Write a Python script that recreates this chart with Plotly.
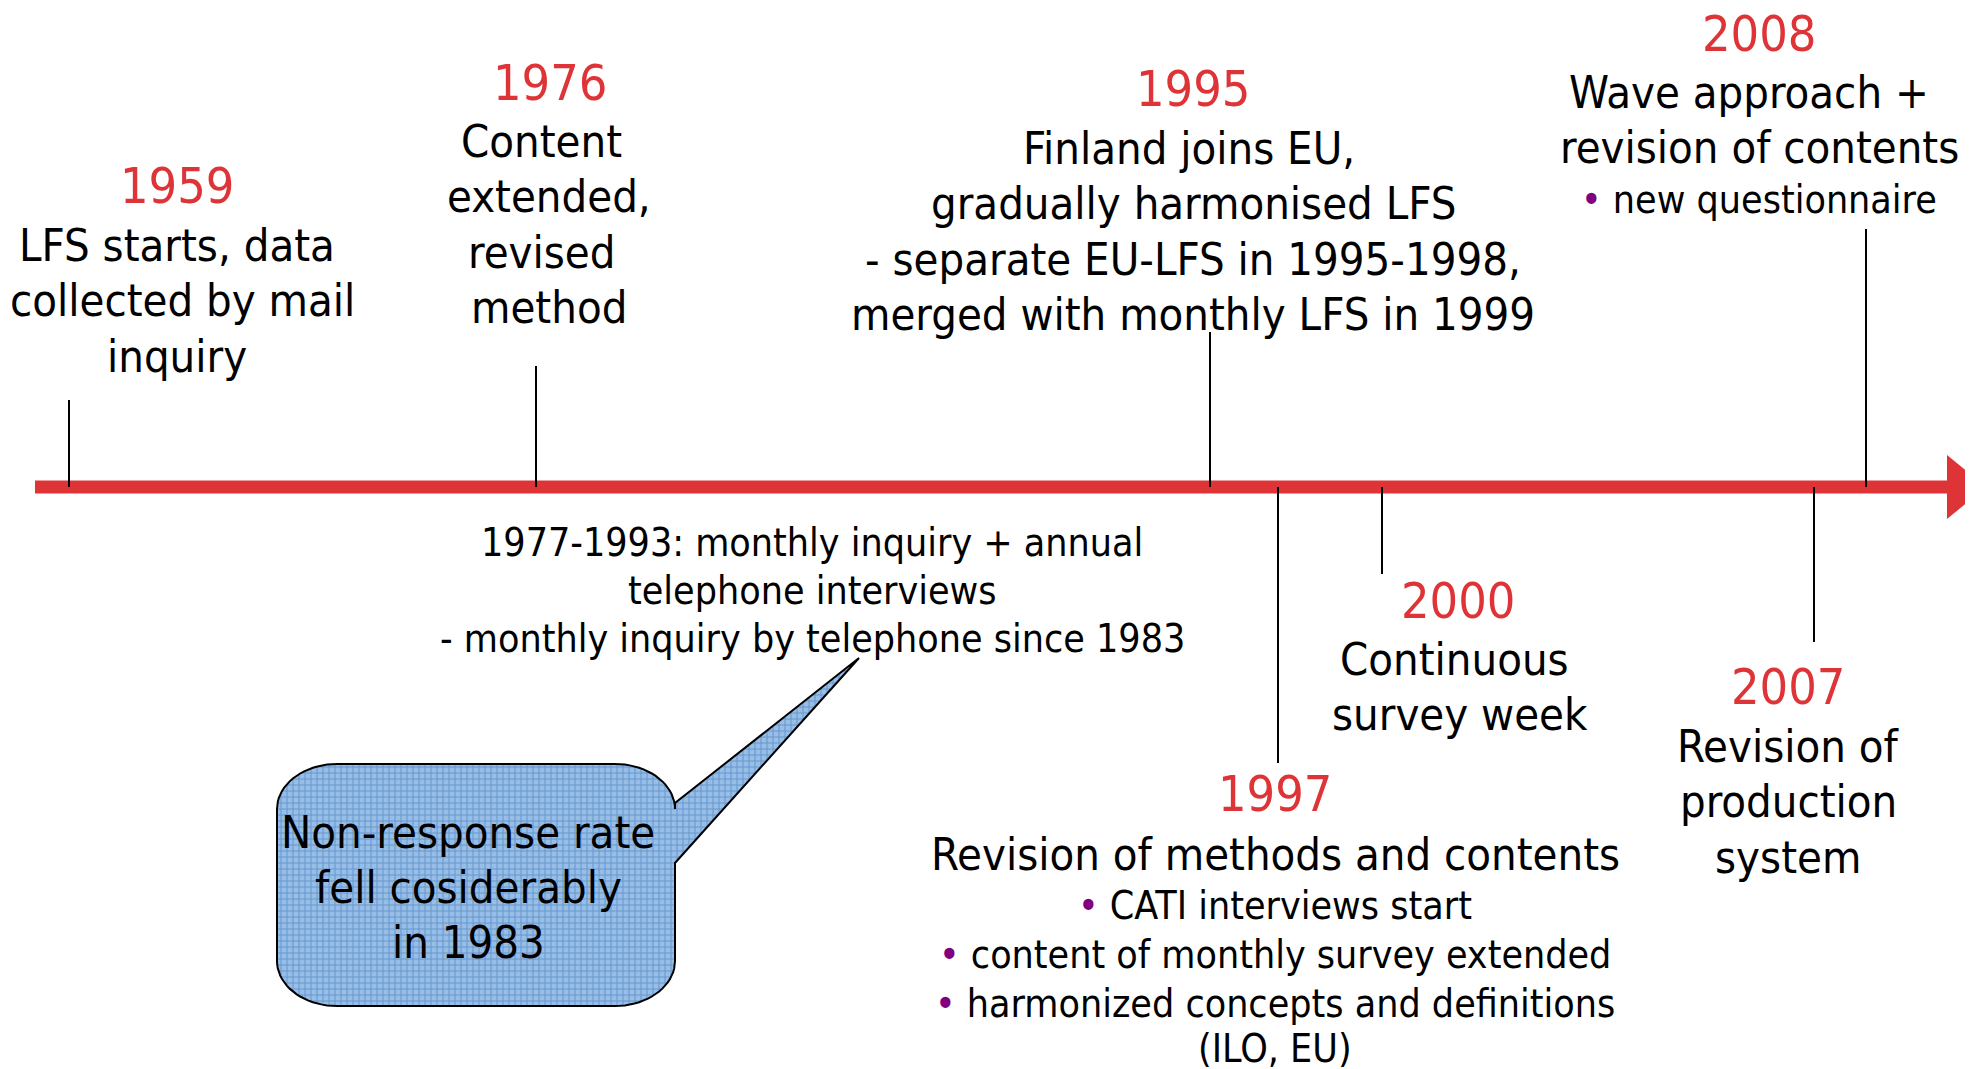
import numpy as np
import plotly.graph_objects as go

# ---------------- data ----------------
years = ["1959", "1976", "1995", "2008", "1997", "2000", "2007"]
descriptions = [
    ["LFS starts, data", "collected by mail", "inquiry"],
    ["Content", "extended,", "revised", "method"],
    ["Finland joins EU,", "gradually harmonised LFS", "- separate EU-LFS in 1995-1998,", "merged with monthly LFS in 1999"],
    ["Wave approach +", "revision of contents"],
    ["Revision of methods and contents"],
    ["Continuous", "survey week"],
    ["Revision of", "production", "system"],
]
bullets = [
    [],
    [],
    [],
    ["new questionnaire"],
    ["CATI interviews start", "content of monthly survey extended", "harmonized concepts and definitions"],
    [],
    [],
]
extra_small = [[], [], [], [], ["(ILO, EU)"], [], []]
period_lines = ["1977-1993: monthly inquiry + annual", "telephone interviews",
                "- monthly inquiry by telephone since 1983"]
callout_lines = ["Non-response rate", "fell cosiderably", "in 1983"]

# ---------------- layout (pixel positions in a 1973x1069 window) ----------------
W, H = 1973, 1069
OFF = 8  # page body margin
AXIS_Y = 487
AXIS_X0, AXIS_X1 = 35, 1948
stem_x = [69, 536, 1210, 1866, 1278, 1382, 1814]
stem_end = [400, 366, 332, 229, 763, 574, 642]
label_x = [177, 546, 1193, 1759, 1275, 1458, 1788]
year_x_shift = [0, 4, 0, 0, 0, 0, 0]
line_x_shift = [[0, 5, 0], [-5, 3, -5, 3], [-4, 0, 0, 0], [-10, 0], [0], [-4, 2], [0, 0, 0]]
year_y = [186, 83, 89, 34, 794, 601, 687]
first_line_y = [245, 141, 148, 92, 854, 659, 746]
BIG_PITCH = 55.5
SMALL_PITCH = 49
bullet_first_y = [None, None, None, 199, 905, None, None]
extra_y = [None, None, None, None, 1048, None, None]
period_x, period_y0 = 812, 542
period_pitch = 48
callout_x, callout_y0, callout_pitch = 468, 832, 55

RED = "#DE3437"
PURPLE = "#800080"
FONT = "DejaVu Sans Condensed, DejaVu Sans, sans-serif"
BIG, YEAR, SMALL = 45, 50, 39

fig = go.Figure()

# callout bubble (rounded rectangle with pointer) -- geometry
bx0, bx1, by0, by1 = 277, 675, 764, 1006
rx, ry = 60, 45
def arc(cx, cy, a0, a1, n=20):
    t = np.linspace(a0, a1, n)
    return cx + rx * np.cos(t), cy + ry * np.sin(t)
px, py = [], []
for cx, cy, a0, a1 in [(bx0 + rx, by0 + ry, np.pi, 1.5 * np.pi),
                       (bx1 - rx, by0 + ry, 1.5 * np.pi, 2 * np.pi)]:
    ax_, ay_ = arc(cx, cy, a0, a1)
    px += list(ax_); py += list(ay_)
px += [bx1, 859, bx1]
py += [803, 658, 863]
for cx, cy, a0, a1 in [(bx1 - rx, by1 - ry, 0, 0.5 * np.pi),
                       (bx0 + rx, by1 - ry, 0.5 * np.pi, np.pi)]:
    ax_, ay_ = arc(cx, cy, a0, a1)
    px += list(ax_); py += list(ay_)
px.append(px[0]); py.append(py[0])
fig.add_trace(go.Scatter(
    x=px, y=py, mode="lines", fill="toself",
    fillcolor="#86AEDC",
    fillpattern=dict(shape="+", fgcolor="#2F6EB5", bgcolor="#98BEE7", size=6, solidity=0.3),
    line=dict(color="black", width=2), hoverinfo="skip", showlegend=False))

# timeline bar
fig.add_trace(go.Scatter(x=[AXIS_X0, AXIS_X1], y=[AXIS_Y, AXIS_Y], mode="lines",
                         line=dict(color=RED, width=13), hoverinfo="skip", showlegend=False))
fig.add_trace(go.Scatter(x=[1947, 1947, 1986, 1947], y=[455, 519, AXIS_Y, 455], mode="lines",
                         fill="toself", fillcolor=RED, line=dict(color=RED, width=0),
                         hoverinfo="skip", showlegend=False))

# stems
for sx, se in zip(stem_x, stem_end):
    fig.add_trace(go.Scatter(x=[sx, sx], y=[AXIS_Y, se], mode="lines",
                             line=dict(color="black", width=2), hoverinfo="skip", showlegend=False))

def txt(x, y, s, size, color="black"):
    fig.add_annotation(x=x, y=y, text=s, showarrow=False, xanchor="center", yanchor="middle",
                       font=dict(family=FONT, size=size, color=color))

for i, yr in enumerate(years):
    txt(label_x[i] + year_x_shift[i], year_y[i], yr, YEAR, RED)
    for j, line in enumerate(descriptions[i]):
        txt(label_x[i] + line_x_shift[i][j], first_line_y[i] + j * BIG_PITCH, line, BIG)
    for j, b in enumerate(bullets[i]):
        txt(label_x[i], bullet_first_y[i] + j * SMALL_PITCH,
            f'<span style="color:{PURPLE}">•</span> {b}', SMALL)
    for j, e in enumerate(extra_small[i]):
        txt(label_x[i], extra_y[i] + j * SMALL_PITCH, e, SMALL)

for j, line in enumerate(period_lines):
    txt(period_x, period_y0 + j * period_pitch, line, SMALL)
for j, line in enumerate(callout_lines):
    txt(callout_x, callout_y0 + j * callout_pitch, line, BIG)

fig.update_layout(
    width=W, height=H, margin=dict(l=0, r=0, t=0, b=0),
    paper_bgcolor="white", plot_bgcolor="white",
    xaxis=dict(range=[OFF, W + OFF], visible=False, fixedrange=True),
    yaxis=dict(range=[H + OFF, OFF], visible=False, fixedrange=True),
    showlegend=False,
)
fig.write_html("out.html")
